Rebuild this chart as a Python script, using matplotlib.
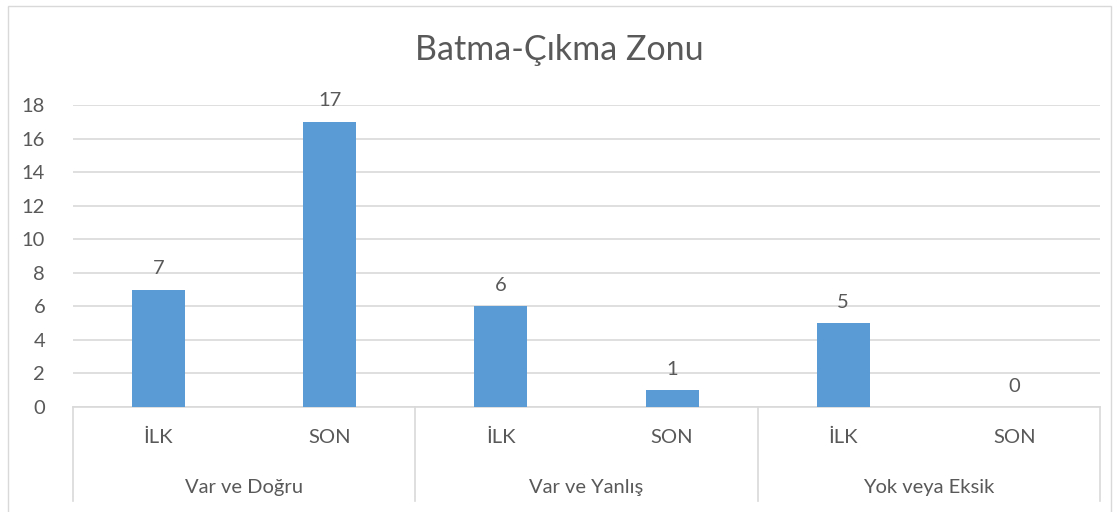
import matplotlib.pyplot as plt
from matplotlib.patches import Rectangle
import matplotlib.transforms as mtransforms

plt.rcParams['font.family'] = ['Lato', 'DejaVu Sans']

# data
groups = ["Var ve Doğru", "Var ve Yanlış", "Yok veya Eksik"]
subcats = ["İLK", "SON"]
values = [7, 17, 6, 1, 5, 0]
yticks = [0, 2, 4, 6, 8, 10, 12, 14, 16, 18]

txt = "#595959"
grid = "#D9D9D9"
bar_col = "#5B9BD5"

fig = plt.figure(figsize=(11.19, 5.12), dpi=100)
# outer chart border (bottom edge runs past the image)
fig.patches.append(Rectangle((8/1119, -10/512), 1103/1119, 516/512, transform=fig.transFigure,
                             fill=False, edgecolor=grid, lw=1.0))

ax = fig.add_axes([73/1119, 1-407/512, 1027/1119, 302/512])
x = list(range(len(values)))
ax.bar(x, values, width=0.31, color=bar_col, zorder=3)
for xi, v in zip(x, values):
    ax.annotate(str(v), (xi, v), xytext=(0, 9), textcoords="offset points",
                ha="center", va="bottom", fontsize=14.5, color=txt)

ax.set_xlim(-0.5, len(values) - 0.5)
ax.set_ylim(0, 18)
ax.set_yticks(yticks)
ax.tick_params(axis='y', length=0, labelsize=14.5, labelcolor=txt, pad=20)
ax.set_xticks([])
ax.grid(axis='y', color=grid, lw=1.2, zorder=0)
for s in ["top", "right", "left"]:
    ax.spines[s].set_visible(False)
ax.spines["bottom"].set_color(grid)
ax.spines["bottom"].set_linewidth(1.2)

# multi-level category axis
tr = mtransforms.blended_transform_factory(ax.transData, ax.transAxes)
for i, lab in enumerate(subcats * len(groups)):
    ax.text(i, -0.10, lab, transform=tr, ha="center", va="center", fontsize=14.5, color=txt)
for g, name in enumerate(groups):
    ax.text(2 * g + 0.5, -0.265, name, transform=tr, ha="center", va="center", fontsize=14.5, color=txt)
for b in range(len(groups) + 1):
    ax.plot([2 * b - 0.5, 2 * b - 0.5], [0, -0.31], transform=tr, color=grid, lw=1.2, clip_on=False)

fig.text(0.5, 1-50/512, "Batma-Çıkma Zonu", ha="center", va="center", fontsize=24.5, color=txt)

fig.savefig("out.png", dpi=100)
